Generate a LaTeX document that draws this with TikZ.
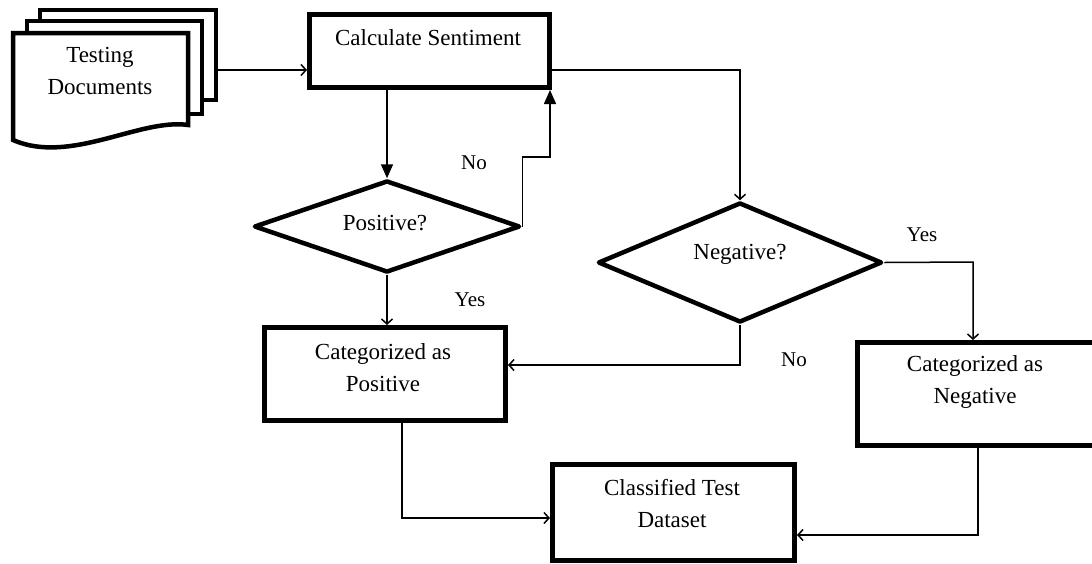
\documentclass[tikz,border=0pt]{standalone}
\usepackage{fontspec}
\setmainfont{Liberation Serif}
\usetikzlibrary{arrows.meta,shapes.geometric}
\begin{document}
\begin{tikzpicture}[x=1pt,y=-1pt,
  procbox/.style={draw,rectangle,line width=5pt,fill=white,inner sep=0pt},
  decision/.style={draw,diamond,line width=4.5pt,line join=round,fill=white,inner sep=0pt},
  docshape/.style={draw,line width=4.5pt,fill=white,line join=miter},
  lbl/.style={font=\fontsize{23}{32}\selectfont,align=center,inner sep=0pt},
  small/.style={font=\fontsize{21}{26}\selectfont,inner sep=0pt},
  conn/.style={line width=1.5pt},
  openarr/.style={conn,-{Straight Barb[length=5pt,width=11pt,line width=1.5pt]}},
  fillarr/.style={conn,-{Triangle[length=14pt,width=12pt]}}]
\useasboundingbox (0,0) rectangle (1092,563);

% documents stack
\draw[docshape] (40,10) rectangle (216,100);
\draw[docshape] (27,21) rectangle (202,114);
\draw[docshape] (13,33) -- (188,33) -- (188,125)
  .. controls (140,118) and (70,165) .. (13,140) -- cycle;
\node[lbl] (doctext) at (100,71) {Testing\\Documents};
\coordinate (docR) at (218,70);

% boxes
\node[procbox,minimum width=240pt,minimum height=73pt] (calc) at (429.5,51) {};
\node[lbl] (calctext) at (428,38) {Calculate Sentiment};

\node[decision,minimum width=266pt,minimum height=92pt] (pos) at (387,226.5) {};
\node[lbl] (postext) at (385,223) {Positive?};

\node[decision,minimum width=284pt,minimum height=120pt] (neg) at (740,262.5) {};
\node[lbl] (negtext) at (740,254) {Negative?};

\node[procbox,minimum width=241pt,minimum height=93pt] (catpos) at (385,374) {};
\node[lbl] (catpostext) at (383,368) {Categorized as\\Positive};

\node[procbox,minimum width=250pt,minimum height=103pt] (catneg) at (982.5,394) {};
\node[lbl] (catnegtext) at (975,382) {Categorized as\\Negative};

\node[procbox,minimum width=242pt,minimum height=96pt] (cls) at (673.5,512.5) {};
\node[lbl] (clstext) at (672,504) {Classified Test\\Dataset};

% connectors
\draw[openarr] (docR) -- (docR -| calc.west);
\draw[fillarr] (calc.south -| pos.north) -- (pos.north);
\coordinate (nocorner) at (550,157);
\draw[fillarr] (pos.east) |- (nocorner) -- (nocorner |- calc.south);
\draw[openarr] (calc.east |- docR) -| (neg.north);
\coordinate (ybend) at (973,262);
\draw[openarr] (neg.east) -- (ybend) -- (ybend |- catneg.north);
\coordinate (nbend) at (742,365);
\draw[openarr] (neg.south) -- (neg.south |- nbend) -- (nbend -| catpos.east);
\draw[openarr] (pos.south) -- (pos.south |- catpos.north);
\coordinate (pbend) at (402,518);
\draw[openarr] (pbend |- catpos.south) -- (pbend) -- (pbend -| cls.west);
\coordinate (nbend2) at (978,535);
\draw[openarr] (nbend2 |- catneg.south) -- (nbend2) -- (nbend2 -| cls.east);

% labels
\node[small] (lno1) at (474,163) {No};
\node[small] (lyes1) at (470,300) {Yes};
\node[small] (lyes2) at (922,235) {Yes};
\node[small] (lno2) at (794,360) {No};
\end{tikzpicture}
\end{document}
